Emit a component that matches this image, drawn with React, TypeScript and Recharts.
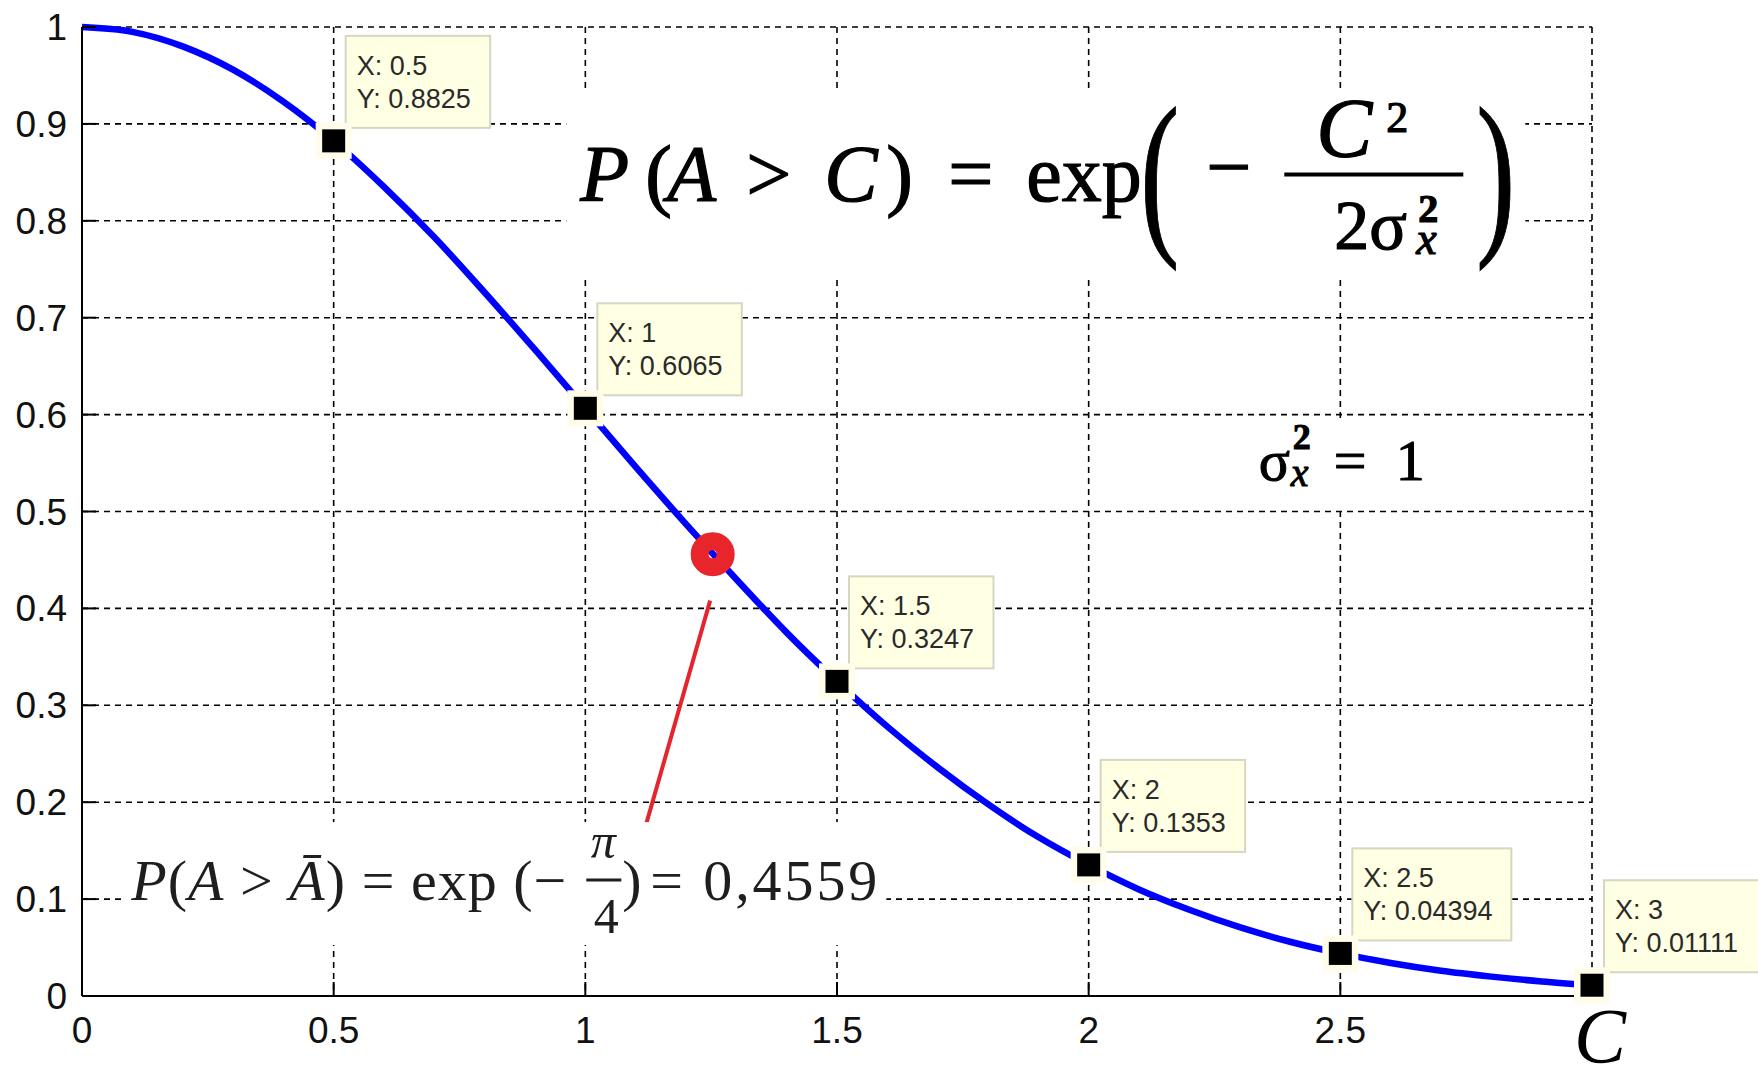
import {
  ComposedChart,
  Line,
  Scatter,
  XAxis,
  YAxis,
  CartesianGrid,
  ReferenceDot,
} from "recharts";

// P(A > C) sampled along C
const curveX = [
  0, 0.1, 0.2, 0.3, 0.4, 0.5, 0.6, 0.7, 0.8, 0.9, 1, 1.1, 1.2, 1.3, 1.4, 1.5,
  1.6, 1.7, 1.8, 1.9, 2, 2.1, 2.2, 2.3, 2.4, 2.5, 2.6, 2.7, 2.8, 2.9, 3,
];
const curveY = [
  1, 0.995, 0.98, 0.956, 0.923, 0.8825, 0.835, 0.783, 0.726, 0.667, 0.6065,
  0.546, 0.487, 0.43, 0.375, 0.3247, 0.278, 0.236, 0.198, 0.164, 0.1353, 0.11,
  0.089, 0.071, 0.056, 0.04394, 0.034, 0.026, 0.02, 0.015, 0.01111,
];

// data cursor points
const tipX = [0.5, 1, 1.5, 2, 2.5, 3];
const tipY = [0.8825, 0.6065, 0.3247, 0.1353, 0.04394, 0.01111];

// mean point and its pointer
const meanX = [1.253];
const meanY = [0.4559];
const pointerX = [1.248, 1.119];
const pointerY = [0.408, 0.174];

const xTicks = [0, 0.5, 1, 1.5, 2, 2.5, 3];
const xTickLabels = ["0", "0.5", "1", "1.5", "2", "2.5", "C"];
const yTicks = [0, 0.1, 0.2, 0.3, 0.4, 0.5, 0.6, 0.7, 0.8, 0.9, 1];
const yTickLabels = ["0", "0.1", "0.2", "0.3", "0.4", "0.5", "0.6", "0.7", "0.8", "0.9", "1"];

const curveData = curveX.map((x, i) => ({ x, y: curveY[i] }));
const tipData = tipX.map((x, i) => ({ x, y: tipY[i] }));
const meanData = meanX.map((x, i) => ({ x, y: meanY[i] }));
const pointerData = pointerX.map((x, i) => ({ x, y: pointerY[i] }));

const SANS = "'Liberation Sans', Arial, sans-serif";
const SERIF = "'Liberation Serif', 'Times New Roman', serif";
const TICK = 14;

const XTick = (props: any) => {
  const { x, y, payload } = props;
  const label = xTickLabels[xTicks.indexOf(payload.value)];
  return (
    <g>
      <line x1={x} y1={y} x2={x} y2={y - TICK} stroke="#000" strokeWidth={2} />
      {label === "C" ? (
        <text x={x + 8} y={y + 66} textAnchor="middle" fontFamily={SERIF} fontStyle="italic" fontSize={78} fill="#000">
          C
        </text>
      ) : (
        <text x={x} y={y + 47} textAnchor="middle" fontFamily={SANS} fontSize={37} fill="#111">
          {label}
        </text>
      )}
    </g>
  );
};

const YTick = (props: any) => {
  const { x, y, payload } = props;
  const label = yTickLabels[yTicks.indexOf(payload.value)];
  return (
    <g>
      <line x1={x} y1={y} x2={x + TICK} y2={y} stroke="#000" strokeWidth={2} />
      <text x={x - 15} y={y + 13} textAnchor="end" fontFamily={SANS} fontSize={37} fill="#111">
        {label}
      </text>
    </g>
  );
};

const TopTick = (props: any) => (
  <line x1={props.x} y1={props.y} x2={props.x} y2={props.y + TICK} stroke="#000" strokeWidth={2} />
);

const RightTick = (props: any) => (
  <line x1={props.x} y1={props.y} x2={props.x - TICK} y2={props.y} stroke="#000" strokeWidth={2} />
);

// black marker + yellow data-cursor box
const DataTip = (props: any) => {
  const { cx, cy, payload } = props;
  const lx = "X: " + String(payload.x);
  const ly = "Y: " + String(payload.y);
  const w = Math.max(lx.length, ly.length) * 14.5 + 14;
  const bx = cx + 12;
  const by = cy - 105;
  return (
    <g>
      <rect x={bx} y={by} width={w} height={92} fill="#ffffe3" stroke="#d6d6c2" strokeWidth={2} />
      <text x={bx + 11} y={by + 39} fontFamily={SANS} fontSize={27} fill="#2a2a2a">
        {lx}
      </text>
      <text x={bx + 11} y={by + 72} fontFamily={SANS} fontSize={27} fill="#2a2a2a">
        {ly}
      </text>
      <rect x={cx - 18} y={cy - 18} width={36} height={36} fill="#fffde9" />
      <rect x={cx - 11.5} y={cy - 11.5} width={23} height={23} fill="#000" />
    </g>
  );
};

const MeanRing = (props: any) => (
  <circle cx={props.cx} cy={props.cy} r={13} fill="none" stroke="#e8252b" strokeWidth={18} />
);

// P (A > C) = exp(-C^2 / 2 sigma_x^2)
const MainFormula = (props: any) => {
  const { cx, cy } = props;
  const t = { fontFamily: SERIF, fill: "#000", stroke: "#000", strokeWidth: 1.2 };
  return (
    <g transform={`translate(${cx},${cy})`}>
      <rect x={-14} y={-111} width={959} height={185} fill="#fff" />
      <text {...t} fontSize={80} x={0} y={0} fontStyle="italic">P</text>
      <text {...t} fontSize={80} x={65} y={0}>(</text>
      <text {...t} fontSize={80} x={87} y={0} fontStyle="italic">A</text>
      <text {...t} fontSize={80} x={166} y={0}>&gt;</text>
      <text {...t} fontSize={80} x={244} y={0} fontStyle="italic">C</text>
      <text {...t} fontSize={80} x={306} y={0}>)</text>
      <text {...t} fontSize={80} x={368} y={0}>=</text>
      <text {...t} fontSize={80} x={446} y={0}>exp</text>
      <text {...t} fontSize={180} transform="translate(560,31) scale(0.65,1)">(</text>
      <text {...t} fontSize={80} x={626} y={-7}>−</text>
      <line x1={704} y1={-27} x2={883} y2={-27} stroke="#000" strokeWidth={4} />
      <text {...t} fontSize={84} x={736} y={-44} fontStyle="italic">C</text>
      <text {...t} fontSize={44} x={806} y={-69}>2</text>
      <text {...t} fontSize={70} x={754} y={48}>2σ</text>
      <text {...t} fontSize={40} x={838} y={21} fontWeight="bold">2</text>
      <text {...t} fontSize={46} x={836} y={53} fontStyle="italic">x</text>
      <text {...t} fontSize={180} transform="translate(896,31) scale(0.65,1)">)</text>
    </g>
  );
};

// sigma_x^2 = 1
const SigmaFormula = (props: any) => {
  const { cx, cy } = props;
  const t = { fontFamily: SERIF, fill: "#000", stroke: "#000", strokeWidth: 1 };
  return (
    <g transform={`translate(${cx},${cy})`}>
      <rect x={-15} y={-62} width={191} height={90} fill="#fff" />
      <text {...t} fontSize={58} x={0} y={0}>σ</text>
      <text {...t} fontSize={36} x={34} y={-31} fontWeight="bold">2</text>
      <text {...t} fontSize={40} x={32} y={6} fontStyle="italic">x</text>
      <text {...t} fontSize={58} x={75} y={0}>=</text>
      <text {...t} fontSize={58} x={137} y={0}>1</text>
    </g>
  );
};

// P(A > mean A) = exp(-pi/4) = 0,4559
const MeanFormula = (props: any) => {
  const { cx, cy } = props;
  const t = { fontFamily: SERIF, fill: "#1e1e1e" };
  return (
    <g transform={`translate(${cx},${cy})`}>
      <rect x={-8} y={-78} width={763} height={123} fill="#fff" />
      <text {...t} fontSize={58} x={0} y={0} textLength={435} lengthAdjust="spacing">
        <tspan fontStyle="italic">P</tspan>(<tspan fontStyle="italic">A</tspan> &gt;{" "}
        <tspan fontStyle="italic">Ā</tspan>) = exp (−
      </text>
      <text {...t} fontSize={50} x={472} y={-42} textAnchor="middle" fontStyle="italic">π</text>
      <line x1={455} y1={-20} x2={490} y2={-20} stroke="#1e1e1e" strokeWidth={3} />
      <text {...t} fontSize={50} x={475} y={33} textAnchor="middle">4</text>
      <text {...t} fontSize={58} x={491} y={0}>)</text>
      <text {...t} fontSize={58} x={519} y={0} textLength={227} lengthAdjust="spacing">
        = 0,4559
      </text>
    </g>
  );
};

export default function App() {
  return (
    <div style={{ position: "absolute", left: 0, top: 0, background: "#fff" }}>
      <ComposedChart
        width={1758}
        height={1072}
        margin={{ top: 27, right: 166, left: 0, bottom: 16 }}
      >
        <CartesianGrid stroke="#000" strokeDasharray="6 5" strokeWidth={1.6} />
        <XAxis
          dataKey="x"
          type="number"
          domain={[0, 3]}
          ticks={xTicks}
          interval={0}
          tickSize={0}
          tickMargin={0}
          tickLine={false}
          height={60}
          axisLine={{ stroke: "#000", strokeWidth: 2 }}
          tick={(p: any) => <XTick {...p} />}
        />
        <XAxis
          xAxisId="top"
          orientation="top"
          type="number"
          domain={[0, 3]}
          ticks={xTicks}
          interval={0}
          tickSize={0}
          tickMargin={0}
          tickLine={false}
          height={0}
          axisLine={{ stroke: "#000", strokeWidth: 2 }}
          tick={(p: any) => <TopTick {...p} />}
        />
        <YAxis
          type="number"
          domain={[0, 1]}
          ticks={yTicks}
          interval={0}
          tickSize={0}
          tickMargin={0}
          tickLine={false}
          width={82}
          axisLine={{ stroke: "#000", strokeWidth: 2 }}
          tick={(p: any) => <YTick {...p} />}
        />
        <YAxis
          yAxisId="right"
          orientation="right"
          type="number"
          domain={[0, 1]}
          ticks={yTicks}
          interval={0}
          tickSize={0}
          tickMargin={0}
          tickLine={false}
          width={0}
          axisLine={{ stroke: "#000", strokeWidth: 2 }}
          tick={(p: any) => <RightTick {...p} />}
        />
        <ReferenceDot x={0.99} y={0.82} r={0} shape={(p: any) => <MainFormula {...p} />} />
        <ReferenceDot x={2.338} y={0.532} r={0} shape={(p: any) => <SigmaFormula {...p} />} />
        <ReferenceDot x={0.098} y={0.099} r={0} shape={(p: any) => <MeanFormula {...p} />} />
        <Line
          data={curveData}
          dataKey="y"
          type="monotone"
          stroke="#0000ff"
          strokeWidth={6.5}
          dot={false}
          activeDot={false}
          isAnimationActive={false}
        />
        <Line
          data={pointerData}
          dataKey="y"
          type="linear"
          stroke="#e3262e"
          strokeWidth={4}
          dot={false}
          activeDot={false}
          isAnimationActive={false}
        />
        <Scatter data={meanData} dataKey="y" shape={(p: any) => <MeanRing {...p} />} isAnimationActive={false} />
        <Scatter data={tipData} dataKey="y" shape={(p: any) => <DataTip {...p} />} isAnimationActive={false} />
      </ComposedChart>
    </div>
  );
}
